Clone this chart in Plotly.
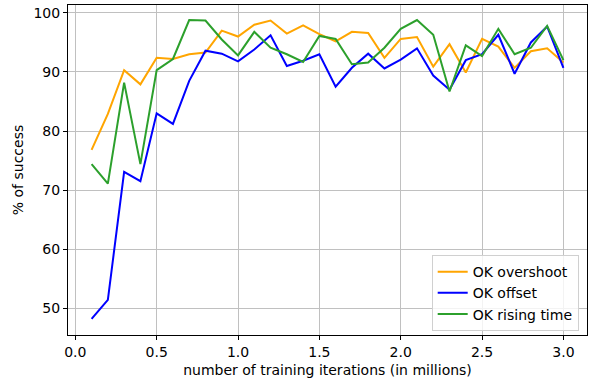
import plotly.graph_objects as go

iterations = [round(0.1 * i, 1) for i in range(1, 31)]

ok_overshoot = [76.8, 82.9, 90.3, 87.9, 92.4, 92.2, 93.0, 93.3, 97.0, 96.0,
                98.0, 98.7, 96.5, 97.9, 96.4, 95.2, 96.8, 96.6, 92.4, 95.6,
                95.9, 90.9, 94.7, 89.9, 95.6, 94.3, 90.7, 93.5, 94.0, 91.6]

ok_offset = [48.2, 51.4, 73.1, 71.5, 83.0, 81.2, 88.5, 93.6, 93.1, 91.8,
             93.8, 96.2, 91.0, 91.9, 93.0, 87.5, 90.7, 93.1, 90.6, 92.1,
             94.0, 89.4, 87.0, 92.0, 93.0, 96.3, 89.7, 95.0, 97.7, 90.7]

ok_rising_time = [74.4, 71.1, 88.2, 74.4, 90.3, 92.2, 98.8, 98.7, 95.5, 92.8,
                  96.8, 94.1, 93.0, 91.7, 96.1, 95.6, 91.3, 91.6, 94.1, 97.3,
                  98.8, 96.3, 86.7, 94.5, 92.7, 97.3, 93.0, 94.1, 97.8, 92.0]

x_ticks = [0.0, 0.5, 1.0, 1.5, 2.0, 2.5, 3.0]
y_ticks = [50, 60, 70, 80, 90, 100]

series = [
    ("OK overshoot", ok_overshoot, "#FFA500"),
    ("OK offset", ok_offset, "#0000FF"),
    ("OK rising time", ok_rising_time, "#2ca02c"),
]

fig = go.Figure()
for name, vals, color in series:
    fig.add_trace(go.Scatter(x=iterations, y=vals, mode="lines", name=name,
                             line=dict(color=color, width=2)))

font = dict(family="DejaVu Sans", size=14, color="#000000")

fig.update_layout(
    width=590, height=378,
    margin=dict(l=68, r=3, t=5, b=43, autoexpand=False),
    paper_bgcolor="white", plot_bgcolor="white",
    font=font,
    legend=dict(
        x=0.984, y=0.012, xanchor="right", yanchor="bottom",
        bgcolor="rgba(255,255,255,0.8)", bordercolor="#d0d0d0", borderwidth=1,
        font=font,
        itemwidth=30, tracegroupgap=0,
    ),
    showlegend=True,
)

fig.update_xaxes(
    range=[-0.045, 3.145], tickvals=x_ticks, ticktext=[f"{v:.1f}" for v in x_ticks],
    showgrid=True, gridcolor="#c0c0c0", gridwidth=1,
    showline=True, linecolor="#000000", linewidth=1, mirror=True,
    ticks="outside", ticklen=4, tickcolor="#000000", zeroline=False,
    title=dict(text="number of training iterations (in millions)", standoff=8,
               font=font),
    automargin=False,
)
fig.update_yaxes(
    range=[45.46, 101.34], tickvals=y_ticks,
    showgrid=True, gridcolor="#c0c0c0", gridwidth=1,
    showline=True, linecolor="#000000", linewidth=1, mirror=True,
    ticks="outside", ticklen=4, tickcolor="#000000", zeroline=False,
    title=dict(text="% of success", standoff=6, font=font),
    automargin=False,
)

fig.write_html("out.html", post_script="document.body.style.margin='0px';",
               config={"displayModeBar": False})
